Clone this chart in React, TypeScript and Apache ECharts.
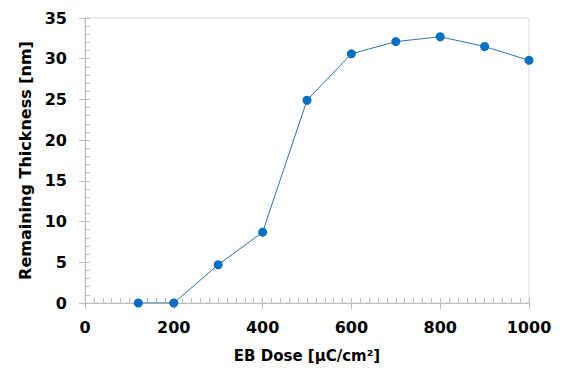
import React, { useEffect, useRef } from "react";
import * as echarts from "echarts";

const doses = [120, 200, 300, 400, 500, 600, 700, 800, 900, 1000];
const thickness = [0, 0, 4.7, 8.7, 24.9, 30.6, 32.1, 32.7, 31.5, 29.8];
const xName = "EB Dose [\u00b5C/cm\u00b2]";
const yName = "Remaining Thickness [nm]";

const FONT = "DejaVu Sans";
const AXIS = "#bfbfbf";

export default function App() {
  const ref = useRef<HTMLDivElement>(null);
  useEffect(() => {
    if (!ref.current) return;
    const chart = echarts.init(ref.current, undefined, { renderer: "svg" });
    const baseX = { type: "value", min: 0, max: 1000, interval: 200, gridIndex: 0 };
    const baseY = { type: "value", min: 0, max: 35, interval: 5, gridIndex: 0 };
    chart.setOption({
      animation: false,
      backgroundColor: "#fff",
      grid: {
        left: 85,
        right: 39,
        top: 18,
        bottom: 80,
        show: true,
        borderColor: "#d9d9d9",
        borderWidth: 1,
      },
      xAxis: [
        {
          ...baseX,
          name: xName,
          nameLocation: "middle",
          nameGap: 45,
          nameTextStyle: { fontFamily: FONT, fontWeight: "bold", fontSize: 15, color: "#000" },
          axisLine: { show: true, lineStyle: { color: AXIS } },
          axisTick: { show: true, inside: true, length: 5, lineStyle: { color: AXIS } },
          minorTick: { show: true, splitNumber: 10, length: 5, lineStyle: { color: AXIS } },
          axisLabel: {
            fontFamily: FONT,
            fontWeight: "bold",
            fontSize: 16,
            color: "#000",
            margin: 16,
            formatter: (v: number) => String(v),
          },
          splitLine: { show: false },
        },
        {
          ...baseX,
          position: "bottom",
          axisLine: { show: false },
          axisTick: { show: true, inside: false, length: 6, lineStyle: { color: AXIS } },
          axisLabel: { show: false },
          splitLine: { show: false },
        },
      ],
      yAxis: [
        {
          ...baseY,
          name: yName,
          nameLocation: "middle",
          nameGap: 50,
          nameTextStyle: { fontFamily: FONT, fontWeight: "bold", fontSize: 16, color: "#000" },
          axisLine: { show: true, lineStyle: { color: AXIS } },
          axisTick: { show: true, inside: true, length: 5, lineStyle: { color: AXIS } },
          minorTick: { show: true, splitNumber: 5, length: 5, lineStyle: { color: AXIS } },
          axisLabel: {
            fontFamily: FONT,
            fontWeight: "bold",
            fontSize: 16,
            color: "#000",
            margin: 18,
            formatter: (v: number) => String(v),
          },
          splitLine: { show: false },
        },
        {
          ...baseY,
          position: "left",
          axisLine: { show: false },
          axisTick: { show: true, inside: false, length: 6, lineStyle: { color: AXIS } },
          axisLabel: { show: false },
          splitLine: { show: false },
        },
      ],
      series: [
        {
          type: "line",
          xAxisIndex: 0,
          yAxisIndex: 0,
          data: doses.map((d, i) => [d, thickness[i]]),
          symbol: "circle",
          symbolSize: 9,
          lineStyle: { color: "#2a72b5", width: 1 },
          itemStyle: { color: "#0a6fc2" },
        },
      ],
    });
    return () => chart.dispose();
  }, []);
  return <div ref={ref} style={{ width: 568, height: 383, margin: -8 }} />;
}
